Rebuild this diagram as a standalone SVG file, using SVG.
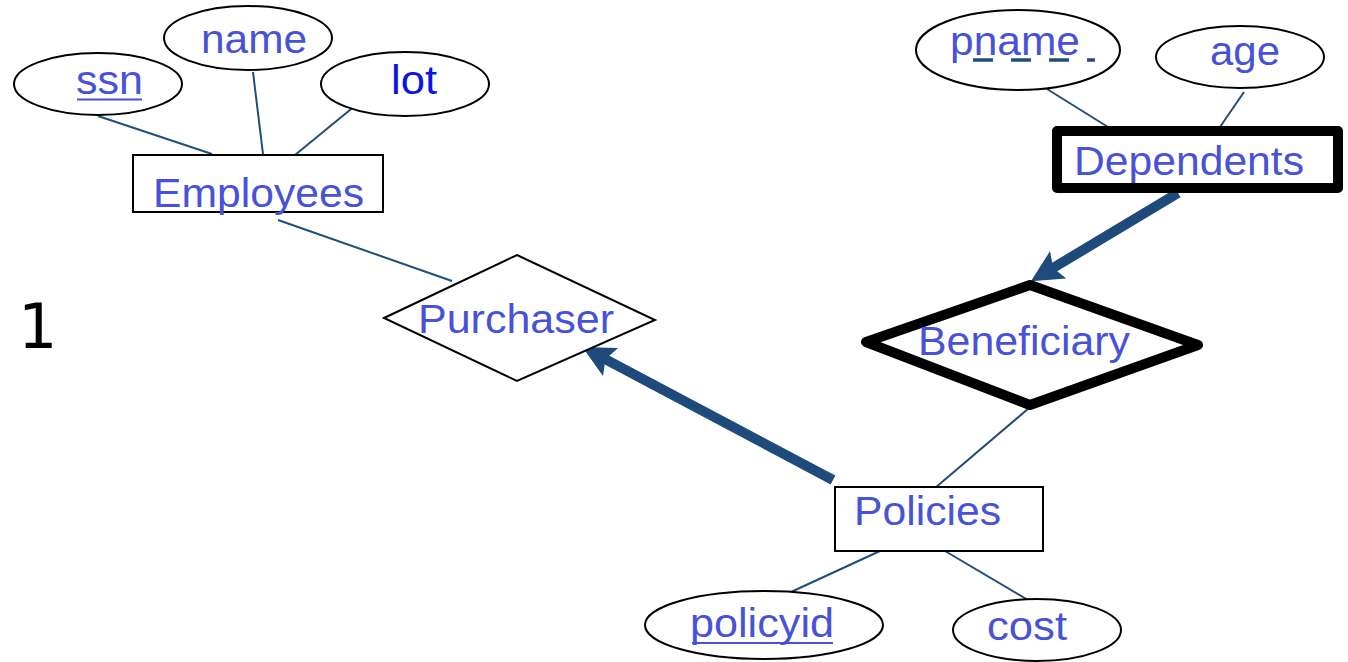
<svg xmlns="http://www.w3.org/2000/svg" width="1348" height="662" viewBox="0 0 1348 662">
<style>
.t{font-family:"Liberation Sans",Arial,sans-serif;font-size:40px;fill:#4752D9}
.lot{fill:#0A14E6}
.ell{fill:#fff;stroke:#000;stroke-width:2}
.box{fill:#fff;stroke:#000;stroke-width:2}
.thick{fill:#fff;stroke:#000;stroke-width:10;stroke-linejoin:round}
.ln{stroke:#1F4E79;stroke-width:2;fill:none}
.arr{stroke:#1F4A7C;stroke-width:10;fill:none;marker-end:url(#ah)}
.ul{stroke:#4752D9;stroke-width:2}
</style>
<defs>
<marker id="ah" markerUnits="userSpaceOnUse" markerWidth="40" markerHeight="40" refX="12" refY="16" orient="auto">
<path d="M0,0 L32,16 L0,32 L6,16 Z" fill="#1F4A7C"/>
</marker>
</defs>
<rect width="1348" height="662" fill="#fff"/>
<g id="connectors">
<line class="ln" x1="98" y1="116" x2="212" y2="154"/>
<line class="ln" x1="253" y1="72" x2="263" y2="154"/>
<line class="ln" x1="356" y1="105" x2="295" y2="155"/>
<line class="ln" x1="278" y1="220" x2="452" y2="281"/>
<line class="ln" x1="1047" y1="89" x2="1108" y2="127"/>
<line class="ln" x1="1244" y1="92" x2="1220" y2="127"/>
<line class="ln" x1="1029" y1="408" x2="935" y2="488"/>
<line class="ln" x1="880" y1="551" x2="791" y2="592"/>
<line class="ln" x1="945" y1="551" x2="1028" y2="600"/>
<line class="arr" x1="833" y1="480" x2="600" y2="356.4"/>
<line class="arr" x1="1178" y1="193" x2="1048" y2="271"/>
</g>
<g id="ssn">
<ellipse class="ell" cx="98" cy="84" rx="84" ry="31"/>
<text class="t" x="76" y="94" textLength="67" lengthAdjust="spacingAndGlyphs">ssn</text>
<line class="ul" x1="77" y1="99.5" x2="142" y2="99.5"/>
</g>
<g id="name">
<ellipse class="ell" cx="248" cy="38" rx="84" ry="32"/>
<text class="t" x="201" y="53" textLength="106" lengthAdjust="spacingAndGlyphs">name</text>
</g>
<g id="lot">
<ellipse class="ell" cx="405" cy="84" rx="84" ry="32"/>
<text class="t lot" x="391" y="94" textLength="46" lengthAdjust="spacingAndGlyphs">lot</text>
</g>
<g id="employees">
<rect class="box" x="133" y="155" width="250" height="57"/>
<text class="t" x="153" y="207" textLength="211" lengthAdjust="spacingAndGlyphs">Employees</text>
</g>
<g id="pname">
<ellipse class="ell" cx="1018" cy="50" rx="102" ry="40"/>
<text class="t" x="950" y="55" textLength="130" lengthAdjust="spacingAndGlyphs">pname</text>
<line x1="973" y1="60" x2="1095" y2="60" stroke="#1F4E79" stroke-width="3.5" stroke-dasharray="20 18"/>
</g>
<g id="age">
<ellipse class="ell" cx="1240" cy="57" rx="84" ry="31"/>
<text class="t" x="1210" y="65" textLength="70" lengthAdjust="spacingAndGlyphs">age</text>
</g>
<g id="dependents">
<rect class="thick" x="1057" y="131" width="281" height="57"/>
<text class="t" x="1074" y="175" textLength="230" lengthAdjust="spacingAndGlyphs">Dependents</text>
</g>
<g id="purchaser">
<polygon class="box" points="384,318 517,255 655,320 517,381"/>
<text class="t" x="418" y="333" textLength="196" lengthAdjust="spacingAndGlyphs">Purchaser</text>
</g>
<g id="beneficiary">
<polygon class="thick" points="866,342 1030,285 1198,345 1030,405"/>
<text class="t" x="918" y="355" textLength="212" lengthAdjust="spacingAndGlyphs">Beneficiary</text>
</g>
<g id="policies">
<rect class="box" x="835" y="487" width="208" height="64"/>
<text class="t" x="854" y="525" textLength="147" lengthAdjust="spacingAndGlyphs">Policies</text>
</g>
<g id="policyid">
<ellipse class="ell" cx="764" cy="625" rx="119" ry="34"/>
<text class="t" x="690" y="637" textLength="144" lengthAdjust="spacingAndGlyphs">policyid</text>
<line class="ul" x1="692" y1="643" x2="833" y2="643"/>
</g>
<g id="cost">
<ellipse class="ell" cx="1037" cy="630" rx="84" ry="31"/>
<text class="t" x="987" y="640" textLength="80" lengthAdjust="spacingAndGlyphs">cost</text>
</g>
<text x="18" y="348" font-family="DejaVu Sans, sans-serif" font-size="62" fill="#000">1</text>
</svg>
